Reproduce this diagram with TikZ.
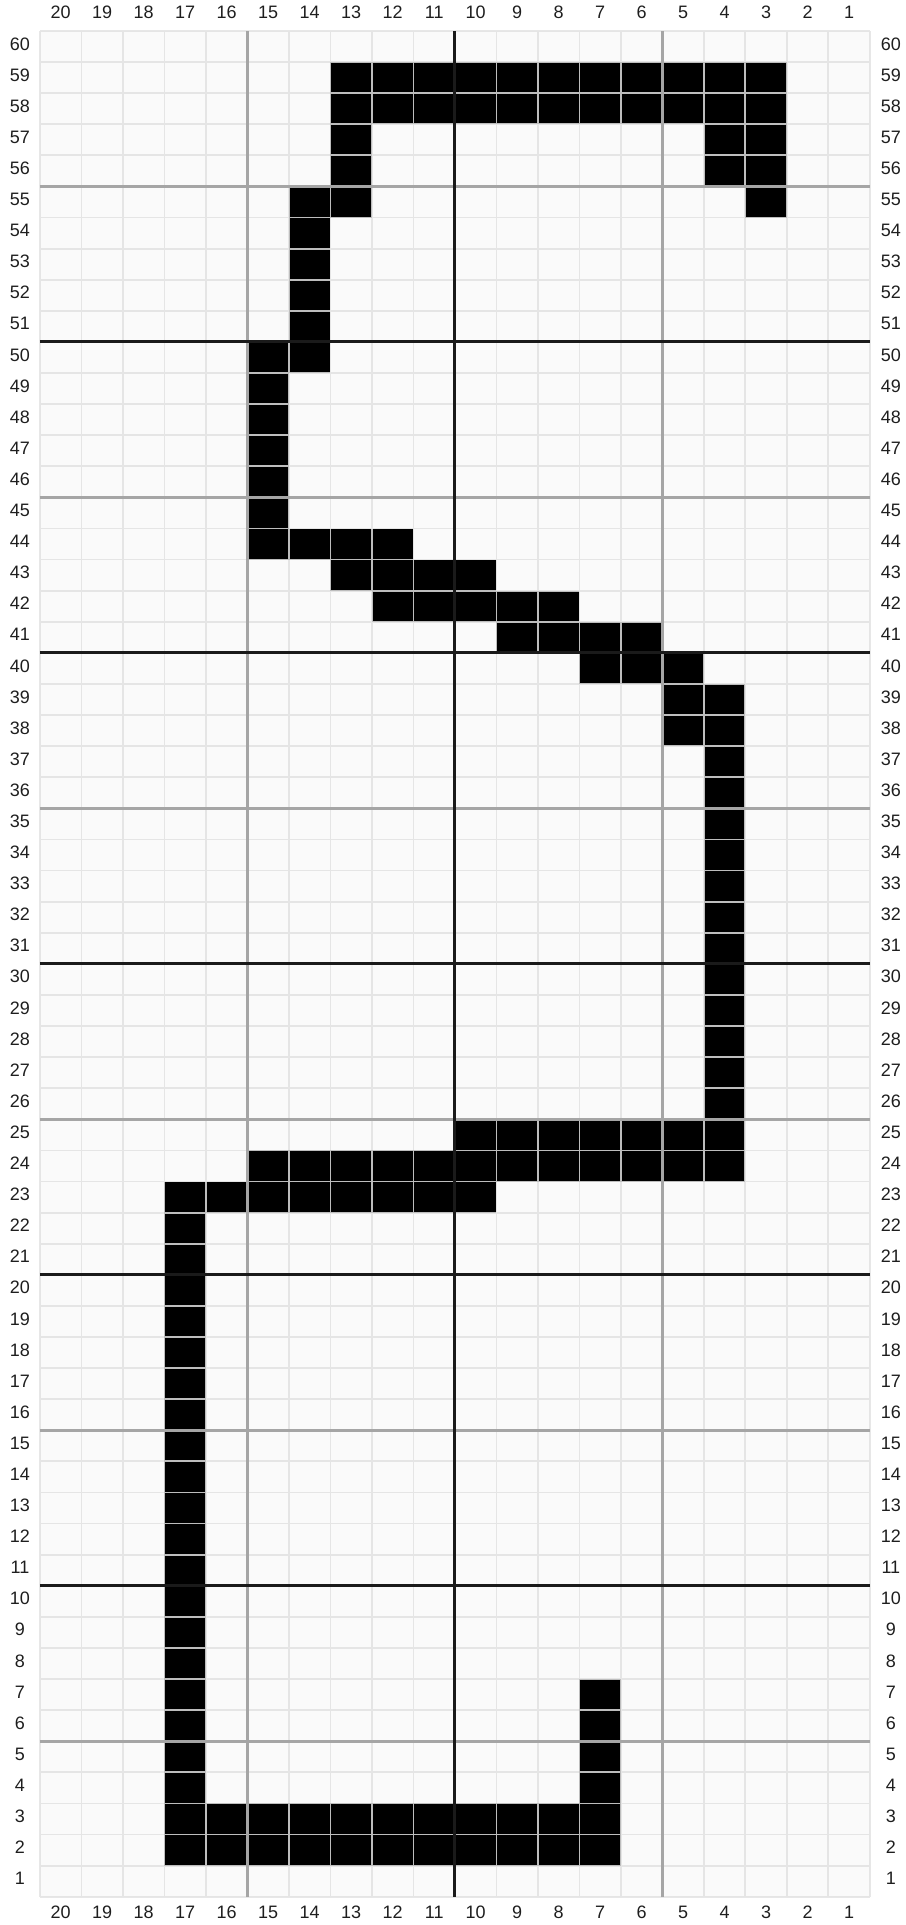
\documentclass[tikz,border=0pt]{standalone}
\usepackage{fontspec}
\setmainfont{Liberation Sans}
\definecolor{cellc}{RGB}{250,250,250}
\definecolor{gridc}{RGB}{226,226,226}
\definecolor{majgrey}{RGB}{165,165,165}
\definecolor{majblack}{RGB}{26,26,26}
\definecolor{labc}{RGB}{30,30,30}
\newcommand\blk[3]{\fill[black] ({20-#2},{#1-1}) rectangle ({21-#3},{#1});}
\begin{document}
\begin{tikzpicture}[x=41.5pt,y=31.1pt,
  gridline/.style={draw=gridc, line width=1.8pt, opacity=0.84},
  greyline/.style={draw=majgrey, line width=2.8pt},
  blackline/.style={draw=majblack, line width=3pt},
  lab/.style={text=labc, font=\fontsize{18}{18}\selectfont, inner sep=0pt, text height=0.72em, text depth=0pt, anchor=center}]
\useasboundingbox (-40pt,-28.3pt) rectangle (865.7pt,1897pt);
\fill[cellc] (0,0) rectangle (20,60);
% black cells
\blk{59}{13}{3}
\blk{58}{13}{3}
\blk{57}{13}{13} \blk{57}{4}{3}
\blk{56}{13}{13} \blk{56}{4}{3}
\blk{55}{14}{13} \blk{55}{3}{3}
\foreach \r in {51,...,54} {\blk{\r}{14}{14}}
\blk{50}{15}{14}
\foreach \r in {45,...,49} {\blk{\r}{15}{15}}
\blk{44}{15}{12}
\blk{43}{13}{10}
\blk{42}{12}{8}
\blk{41}{9}{6}
\blk{40}{7}{5}
\blk{39}{5}{4}
\blk{38}{5}{4}
\foreach \r in {26,...,37} {\blk{\r}{4}{4}}
\blk{25}{10}{4}
\blk{24}{15}{4}
\blk{23}{17}{10}
\foreach \r in {4,...,22} {\blk{\r}{17}{17}}
\foreach \r in {4,...,7} {\blk{\r}{7}{7}}
\blk{3}{17}{7}
\blk{2}{17}{7}
% grid
\draw[gridline]
  \foreach \i in {0,...,20} {(\i,0) -- (\i,60)}
  \foreach \j in {0,...,60} {(0,\j) -- (20,\j)};
% major lines
\draw[greyline] \foreach \j in {5,15,25,35,45,55} {(0,\j) -- (20,\j)}
  \foreach \i in {5,15} {(\i,0) -- (\i,60)};
\draw[blackline] \foreach \j in {10,20,30,40,50} {(0,\j) -- (20,\j)}
  (10,0) -- (10,60);
% labels
\foreach \c in {1,...,20} {
  \node[lab] (top\c) at ({20.5-\c},60) [yshift=16pt] {\c};
  \node[lab] (bot\c) at ({20.5-\c},0) [yshift=-18pt] {\c};
}
\foreach \r in {1,...,60} {
  \node[lab] (left\r) at (0,{\r-0.5}) [xshift=-20pt] {\r};
  \node[lab] (right\r) at (20,{\r-0.5}) [xshift=21pt] {\r};
}
\end{tikzpicture}
\end{document}
